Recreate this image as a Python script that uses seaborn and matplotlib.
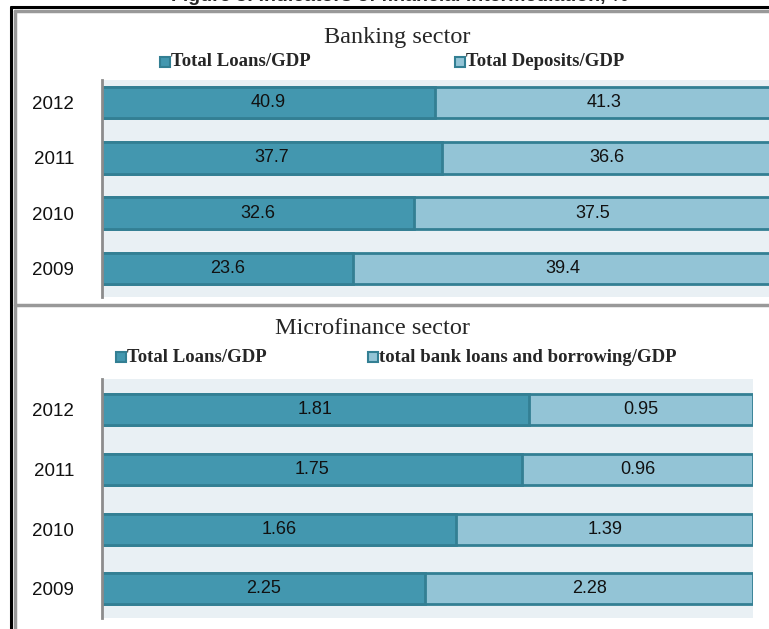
import matplotlib
matplotlib.use("Agg")
import matplotlib.pyplot as plt
import matplotlib.patches as mpatches
import matplotlib.lines as mlines
import pandas as pd
import seaborn as sns

years = ["2012", "2011", "2010", "2009"]
bank_loans = [40.9, 37.7, 32.6, 23.6]
bank_deposits = [41.3, 36.6, 37.5, 39.4]
mfi_loans = [1.81, 1.75, 1.66, 2.25]
mfi_borrowing = [0.95, 0.96, 1.39, 2.28]

DARK = "#4397AF"
LIGHT = "#93C4D6"
EDGE = "#337F93"
BG = "#E9F0F4"
NUM_FONT = ["Liberation Sans Narrow", "Liberation Sans", "DejaVu Sans"]
SERIF = ["Liberation Serif", "DejaVu Serif"]

sns.set_theme(style="white")
plt.rcParams["font.family"] = NUM_FONT

W, H = 769, 629
fig = plt.figure(figsize=(W / 100, H / 100), dpi=100)


def fx(px):
    return px / W


def fy(py):
    return 1 - py / H


def stacked(ax, first, second, bar_h, ylim):
    df = pd.DataFrame({"year": years, "a": first, "b": second})
    df["total"] = df["a"] + df["b"]
    df["share_a"] = df["a"] / df["total"]
    df["full"] = 1.0
    sns.barplot(data=df, x="full", y="year", order=years, color=LIGHT,
                saturation=1, width=bar_h, edgecolor=EDGE, linewidth=2, ax=ax)
    sns.barplot(data=df, x="share_a", y="year", order=years, color=DARK,
                saturation=1, width=bar_h, edgecolor=EDGE, linewidth=2, ax=ax)
    for i, row in df.iterrows():
        ax.text(row["share_a"] / 2, i, f"{row['a']:g}", ha="center", va="center",
                fontsize=13, color="#111111")
        ax.text(row["share_a"] + (1 - row["share_a"]) / 2, i, f"{row['b']:g}",
                ha="center", va="center", fontsize=13, color="#111111")
    ax.set_facecolor(BG)
    ax.set_xlim(0, 1)
    ax.set_ylim(*ylim)
    ax.set_xlabel("")
    ax.set_ylabel("")
    ax.set_xticks([])
    ax.tick_params(axis="y", length=0, pad=20, labelsize=13.5, labelcolor="#111111")
    for s in ["top", "right", "bottom"]:
        ax.spines[s].set_visible(False)
    ax.spines["left"].set_color("#8C8C8C")
    ax.spines["left"].set_linewidth(2)


# top panel: banking
ax1 = fig.add_axes([fx(102), fy(297), fx(670), (297 - 80) / H])
stacked(ax1, bank_loans, bank_deposits, 0.57, (3.515, -0.41))

# bottom panel: microfinance
ax2 = fig.add_axes([fx(102), fy(618), fx(651), (618 - 379) / H])
stacked(ax2, mfi_loans, mfi_borrowing, 0.52, (3.49, -0.52))

# panel titles and legends
fig.text(fx(397), fy(37), "Banking sector", ha="center", va="center",
         fontsize=17.5, family=SERIF)
fig.text(fx(372), fy(328), "Microfinance sector", ha="center", va="center",
         fontsize=17.5, family=SERIF)


def legend_item(x, y, color, label):
    fig.patches.append(mpatches.Rectangle((fx(x), fy(y + 5)), fx(10), 10 / H,
                                          transform=fig.transFigure, facecolor=color,
                                          edgecolor=EDGE, linewidth=1.5))
    fig.text(fx(x + 11), fy(y), label, ha="left", va="center", fontsize=13.5,
             fontweight="bold", family=SERIF)


legend_item(160, 62, DARK, "Total Loans/GDP")
legend_item(455, 62, LIGHT, "Total Deposits/GDP")
legend_item(116, 357, DARK, "Total Loans/GDP")
legend_item(368, 357, LIGHT, "total bank loans and borrowing/GDP")

# frame lines
fig.lines.append(mlines.Line2D([fx(11), fx(11)], [fy(7), 0], transform=fig.transFigure,
                               color="black", linewidth=2.2))
fig.lines.append(mlines.Line2D([fx(11), 1], [fy(7), fy(7)], transform=fig.transFigure,
                               color="black", linewidth=2.2))
fig.lines.append(mlines.Line2D([fx(15), fx(15)], [fy(11), 0], transform=fig.transFigure,
                               color="#999999", linewidth=2.5))
fig.lines.append(mlines.Line2D([fx(15), 1], [fy(11), fy(11)], transform=fig.transFigure,
                               color="#999999", linewidth=2.5))
fig.lines.append(mlines.Line2D([fx(15), 1], [fy(305), fy(305)], transform=fig.transFigure,
                               color="#999999", linewidth=2.5))

# figure caption, cut off at the top edge in the source
fig.text(fx(400), fy(1), "Figure 3: Indicators of financial intermediation, %",
         ha="center", va="baseline", fontsize=14, fontweight="bold",
         family=["Liberation Sans", "DejaVu Sans"])

fig.savefig("out.png", dpi=100)
